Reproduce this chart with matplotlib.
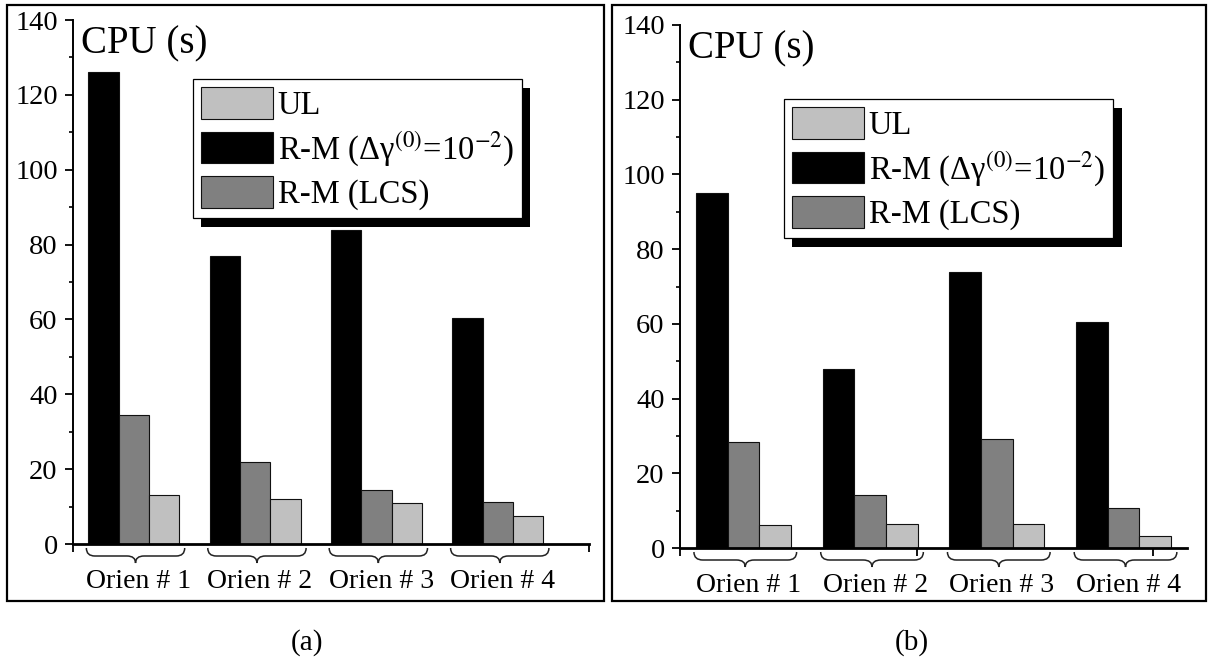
import numpy as np
import matplotlib
matplotlib.use('Agg')
import matplotlib.pyplot as plt
import matplotlib.patheffects as pe
from matplotlib.path import Path
from matplotlib.patches import PathPatch, Rectangle
from matplotlib.ticker import AutoMinorLocator
from matplotlib import transforms

plt.rcParams['font.family'] = ['Liberation Serif', 'DejaVu Serif']
plt.rcParams['mathtext.fontset'] = 'stix'

# data
orien = ['Orien # 1', 'Orien # 2', 'Orien # 3', 'Orien # 4']
labels = ['UL', 'R-M (Δγ$^{(0)}$=10$^{-2}$)', 'R-M (LCS)']

rm_dg_a = [126, 77, 84, 60.5]
rm_lcs_a = [34.5, 22, 14.3, 11.2]
ul_a = [13, 12, 11, 7.4]

rm_dg_b = [95, 48, 74, 60.4]
rm_lcs_b = [28.5, 14.3, 29.2, 10.8]
ul_b = [6.2, 6.4, 6.3, 3.1]

c_dg, c_lcs, c_ul = '#000000', '#808080', '#c0c0c0'
W, H = 1208, 661


def brace(ax, x0, x1, top=4, mid=12, tip=19, q=0.07):
    # curly brace under the axis, x in data, y in pixels below the axis
    h = ax.bbox.height
    t, m, p = -top / h, -mid / h, -tip / h
    xm = (x0 + x1) / 2
    verts = [(x0, t), (x0, m), (x0 + q, m), (xm - q, m), (xm, m), (xm, p),
             (xm, m), (xm + q, m), (x1 - q, m), (x1, m), (x1, t)]
    codes = [Path.MOVETO, Path.CURVE3, Path.CURVE3, Path.LINETO,
             Path.CURVE3, Path.CURVE3, Path.CURVE3, Path.CURVE3,
             Path.LINETO, Path.CURVE3, Path.CURVE3]
    tr = transforms.blended_transform_factory(ax.transData, ax.transAxes)
    ax.add_patch(PathPatch(Path(verts, codes), transform=tr, fill=False,
                           lw=1.1, color='#222222', clip_on=False))


def panel(ax, dg, lcs, ul, xmax, xt, cpu_x, leg_anchor):
    x = np.arange(len(orien)) + 0.5
    w = 0.25
    b_dg = ax.bar(x - w, dg, w, color=c_dg, edgecolor='#111111', lw=0.8)
    b_lcs = ax.bar(x, lcs, w, color=c_lcs, edgecolor='#111111', lw=0.8)
    b_ul = ax.bar(x + w, ul, w, color=c_ul, edgecolor='#111111', lw=0.8)
    ax.set_xlim(0, xmax)
    ax.set_ylim(0, 140)
    ax.set_yticks(np.arange(0, 141, 20))
    ax.yaxis.set_minor_locator(AutoMinorLocator(2))
    ax.set_xticks(xt)
    ax.set_xticklabels([])
    ax.tick_params(axis='y', which='major', direction='out', length=6, width=1.3,
                   labelsize=20.5, pad=5)
    ax.tick_params(axis='y', which='minor', direction='out', length=3, width=1.2)
    ax.tick_params(axis='x', direction='out', length=6, width=1.3)
    for s in ['top', 'right']:
        ax.spines[s].set_visible(False)
    ax.spines['left'].set_linewidth(1.4)
    ax.spines['bottom'].set_linewidth(2.0)
    ax.text(cpu_x, 133.5, 'CPU (s)', fontsize=28, va='center', ha='left')
    for xi, name in zip(x, orien):
        brace(ax, xi - 0.39, xi + 0.42)
        ax.annotate(name, xy=(xi + 0.04, 0), xycoords=('data', 'axes fraction'),
                    xytext=(0, -27), textcoords='offset points',
                    ha='center', va='center', fontsize=20)
    leg = ax.legend([b_ul, b_dg, b_lcs], labels, loc='upper left',
                    bbox_to_anchor=leg_anchor, fontsize=23.5, fancybox=False,
                    edgecolor='black', framealpha=1, borderaxespad=0,
                    handlelength=2.2, handleheight=1.1, handletextpad=0.15,
                    borderpad=0.25, labelspacing=0.25)
    leg.get_frame().set_linewidth(0.9)
    leg.get_frame().set_path_effects([
        pe.SimplePatchShadow(offset=(6, -6), shadow_rgbFace='k', alpha=1.0),
        pe.Normal()])


fig = plt.figure(figsize=(W / 100, H / 100), dpi=100)
ax_a = fig.add_axes([73 / W, (H - 544) / H, (589 - 73) / W, 524 / H])
ax_b = fig.add_axes([680 / W, (H - 548) / H, (1187 - 680) / W, 523 / H])

panel(ax_a, rm_dg_a, rm_lcs_a, ul_a, 4.25, [0, 4.25], 0.07, (0.232, 0.887))
panel(ax_b, rm_dg_b, rm_lcs_b, ul_b, 4.0, [0, 1.87, 3.73], 0.06, (0.205, 0.858))

# frames round each panel
for x0, x1 in [(7, 604), (612, 1206)]:
    fig.add_artist(Rectangle((x0 / W, (H - 601) / H), (x1 - x0) / W, 596 / H,
                             transform=fig.transFigure, fill=False,
                             lw=1.6, edgecolor='black'))

fig.text(307 / W, (H - 643) / H, '(a)', ha='center', va='center', fontsize=21)
fig.text(912 / W, (H - 643) / H, '(b)', ha='center', va='center', fontsize=21)

fig.savefig('out.png', dpi=100)
